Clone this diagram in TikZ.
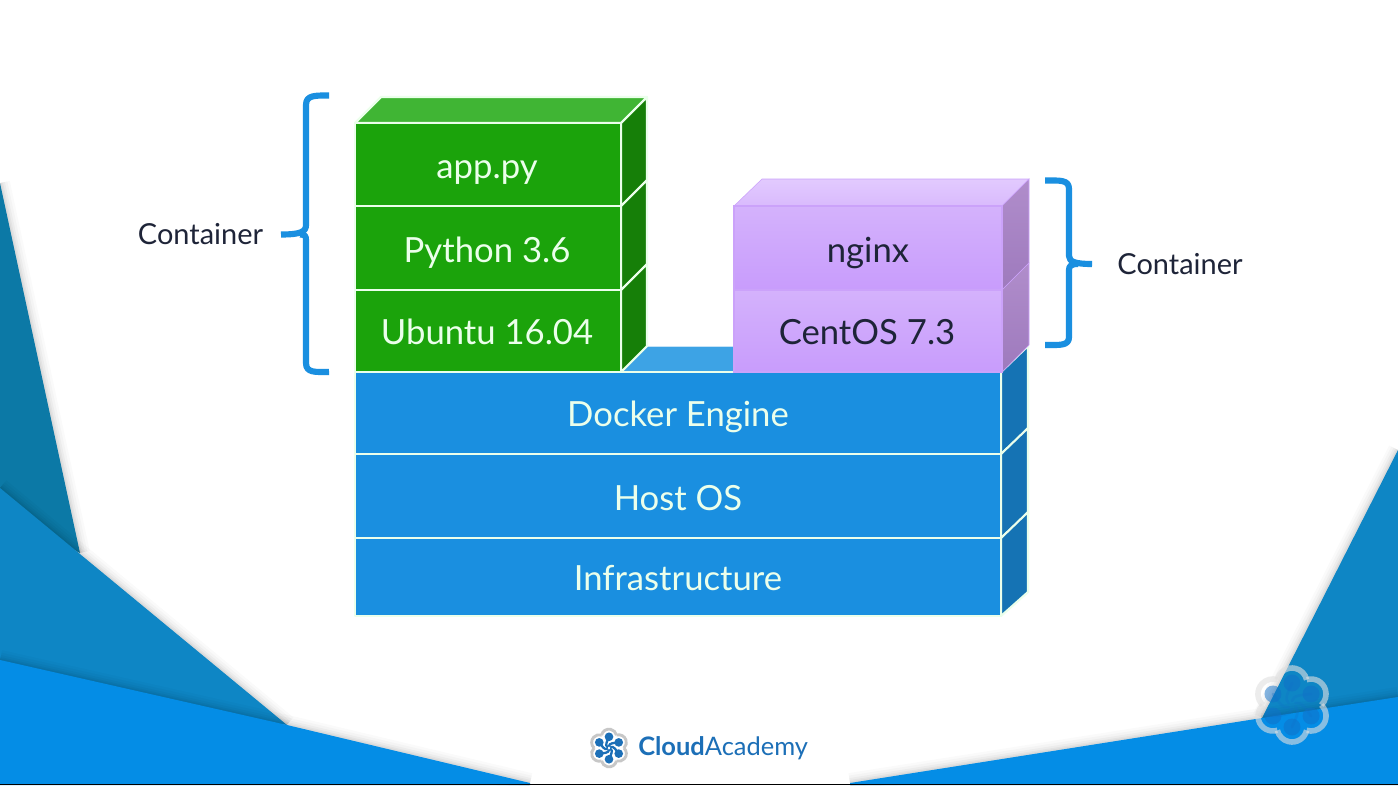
\documentclass[tikz,border=0pt]{standalone}
\usepackage{fontspec}
\setmainfont{Lato}
\definecolor{bgdark}{HTML}{0C79A6}
\definecolor{bgmid}{HTML}{0E86C5}
\definecolor{bgbright}{HTML}{048DE6}
\definecolor{gfront}{HTML}{1BA30B}
\definecolor{gside}{HTML}{167F08}
\definecolor{gtop}{HTML}{40B534}
\definecolor{bfront}{HTML}{1A8FE0}
\definecolor{bside}{HTML}{1573B4}
\definecolor{btop}{HTML}{3DA3E5}
\definecolor{pbright}{HTML}{D4B2FC}
\definecolor{pdeep}{HTML}{C89CFC}
\definecolor{pedge}{HTML}{CBA2FA}
\definecolor{ptopa}{HTML}{E2CAFE}
\definecolor{ptopb}{HTML}{D9BAFD}
\definecolor{psidea}{HTML}{B08DCB}
\definecolor{psideb}{HTML}{9E7ABD}
\definecolor{inkdark}{HTML}{1E2438}
\definecolor{brace}{HTML}{1A8FE0}
\definecolor{logoblue}{HTML}{1C6FB7}
\definecolor{wmdot}{HTML}{1070C8}
\tikzset{
  edgewhite/.style={draw=white!92!green,line width=1.6pt,line join=round},
  label/.style={font=\fontsize{26}{29}\selectfont,inner sep=0pt,anchor=base},
  lightlabel/.style={label,text=white!92!green},
  darklabel/.style={label,text=inkdark},
  sidelabel/.style={font=\fontsize{21.7}{25}\selectfont,text=inkdark,inner sep=0pt,anchor=base},
  bracestroke/.style={draw=brace,line width=4.6pt,line cap=butt,line join=round},
  pface/.style={top color=pbright,bottom color=pdeep,draw=pedge,line width=.8pt},
  pside/.style={top color=psidea,bottom color=psideb,draw=pedge,line width=.4pt},
}
% soft shadow along an open edge
\newcommand{\softshadow}[1]{%
  \foreach \w/\o in {20/.02,15/.025,10/.03,6/.035,3/.04}{%
    \draw[black,opacity=\o,line width=\w*.75pt,line cap=butt] #1;}}
\newcommand{\logoflower}[9]{% cx,cy,scale,ring colour,ring opacity,dot colour,dot opacity,link opacity,link width
  \begin{scope}[shift={(#1,#2)},scale=#3]
    \foreach \a in {30,90,150,210,270,330}{
      \draw[#4,opacity=#5,line width=#3*4.2pt]
        (\a:22) ++(\a-77:15) arc[start angle=\a-77,end angle=\a+77,radius=15];
      \fill[#6,opacity=#7] (\a:22) circle[radius=8.5];
      \draw[#6,opacity=#8,line width=#3*#9pt,line cap=round]
        (\a:22) .. controls (\a-15:14) and (\a-55:10) .. (\a-60:4);
    }
  \end{scope}}
\begin{document}
\begin{tikzpicture}[x=.75pt,y=-.75pt]
\useasboundingbox (0,0) rectangle (1398,785);
\fill[white] (0,0) rectangle (1398,785);
\begin{scope}
\clip (0,0) rectangle (1398,785);
% left background
\softshadow{(0,183) -- (80,553)}
\fill[bgdark] (0,183) -- (80,553) -- (0,510) -- cycle;
\softshadow{(0,488) -- (287,725)}
\fill[bgmid] (0,488) -- (287,725) -- (0,680) -- cycle;
% right background
\softshadow{(1398,450) -- (1262,718)}
\fill[bgmid] (1398,450) -- (1262,718) -- (1398,720) -- cycle;
% bottom band
\softshadow{(0,660) -- (287,725) -- (530,783)}
\softshadow{(850,783) -- (1262,718) -- (1398,697)}
\fill[bgbright] (0,660) -- (287,725) -- (530,783) -- (530,785) -- (0,785) -- cycle;
\fill[bgbright] (850,783) -- (1262,718) -- (1398,697) -- (1398,785) -- (850,785) -- cycle;
\fill[black] (0,783.5) rectangle (1398,785);
\end{scope}

% blue stack
\fill[btop] (621,372) -- (647,346) -- (734,346) -- (734,372) -- cycle;
\draw[white!70!btop,line width=.7pt] (647,346) -- (734,346);
\foreach \t/\b in {372/454,454/538,538/616}{
  \path[fill=bside,edgewhite] (1001,\t) -- (1028,\t-26) -- (1028,\b-24) -- (1001,\b) -- cycle;
  \path[fill=bfront,edgewhite] (355,\t) rectangle (1001,\b);
}
% green stack
\path[fill=gtop,edgewhite] (355,123) -- (381,97) -- (647,97) -- (621,123) -- cycle;
\foreach \t/\b in {123/206,206/290,290/372}{
  \path[fill=gside,edgewhite] (621,\t) -- (647,\t-26) -- (647,\b-26) -- (621,\b) -- cycle;
  \path[fill=gfront,edgewhite] (355,\t) rectangle (621,\b);
}
% purple stack
\path[top color=ptopa,bottom color=ptopb,draw=pedge,line width=.4pt] (734,206) -- (762,179) -- (1029,179) -- (1002,206) -- cycle;
\foreach \t/\b in {206/290,290/372}{
  \path[pside] (1002,\t) -- (1029,\t-27) -- (1029,\b-27) -- (1002,\b) -- cycle;
  \path[pface] (734,\t) rectangle (1002,\b);
}

% labels
\node[lightlabel] (app) at (487,178) {app.py};
\node[lightlabel] (python) at (487,262) {Python 3.6};
\node[lightlabel] (ubuntu) at (487,344) {Ubuntu 16.04};
\node[lightlabel] (docker) at (678,426) {Docker Engine};
\node[lightlabel] (hostos) at (678,510) {Host OS};
\node[lightlabel] (infra) at (678,590) {Infrastructure};
\node[darklabel] (nginx) at (868,262) {nginx};
\node[darklabel] (centos) at (867,344) {CentOS 7.3};
\node[sidelabel] (contl) at (200.5,244) {Container};
\node[sidelabel] (contr) at (1180,274) {Container};

% braces
\draw[bracestroke] (329,95.5) .. controls (315,95.5) and (306,95) .. (306,105)
  -- (306,225) .. controls (306,232) and (300,234.5) .. (281,234.5);
\draw[bracestroke] (329,372) .. controls (315,372) and (306,373) .. (306,363)
  -- (306,240) .. controls (306,236) and (305,234.5) .. (300,234.5);
\draw[bracestroke] (1045,180.5) .. controls (1060,180.5) and (1069,179.5) .. (1069,189)
  -- (1069,256) .. controls (1069,262) and (1076,264) .. (1092,264);
\draw[bracestroke] (1045,345) .. controls (1060,345) and (1069,346) .. (1069,337)
  -- (1069,270) .. controls (1069,266) and (1071,264) .. (1078,264);

% logo
\logoflower{609}{748}{.51}{black!22}{1}{logoblue}{1}{1}{3.4}
\node[inner sep=0pt,anchor=base west,text=logoblue,font=\fontsize{19.1}{22}\selectfont] (logotext) at (638,755) {\textbf{Cloud}Academy};
% watermark
\logoflower{1292}{705}{1}{black!12}{.6}{wmdot}{.5}{.25}{2}
\end{tikzpicture}
\end{document}
